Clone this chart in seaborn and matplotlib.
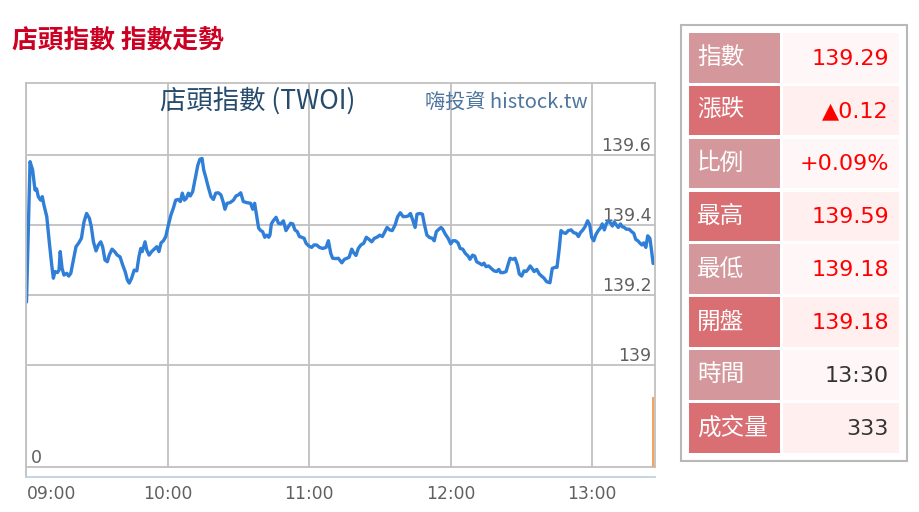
import matplotlib
matplotlib.use("Agg")
import matplotlib.pyplot as plt
import seaborn as sns
import pandas as pd
from matplotlib.patches import Rectangle

# ---------------- data ----------------
minutes = [0, 1.5, 2.6, 3.6, 4.3, 5.0, 6.0, 6.7, 7.4, 8.6, 9.7, 10.7, 11.4, 12.1, 13.1, 13.8, 14.3, 15.1, 15.9, 17.1,
           17.9, 18.8, 19.9, 21.0, 22.2, 23.3, 24.4, 25.5, 26.7, 27.5, 28.4, 29.5, 30.5, 31.5, 32.3, 33.3, 34.3, 35.1, 36.3, 37.4,
           38.5, 39.7, 40.8, 41.9, 42.8, 43.6, 44.6, 45.7, 46.8, 47.7, 48.5, 49.1, 50.3, 51.0, 52.0, 53.1, 54.2, 55.3, 56.2, 57.1,
           58.1, 59.1, 60.2, 61.3, 62.3, 63.3, 64.4, 65.3, 66.1, 67.0, 67.8, 68.7, 69.5, 70.5, 71.5, 72.7, 73.6, 74.5, 75.2, 76.0,
           77.1, 78.3, 79.3, 80.3, 81.4, 82.5, 83.4, 84.2, 85.1, 86.4, 87.8, 88.9, 89.9, 90.9, 92.0, 93.4, 95.1, 96.0, 96.8, 97.7,
           98.5, 99.4, 100.2, 101.1, 101.9, 102.8, 103.3, 103.9, 104.7, 105.9, 106.9, 107.9, 109.0, 110.1, 111.1, 112.1, 113.0, 113.9, 114.9, 115.8,
           116.8, 117.8, 118.6, 119.8, 121.0, 122.0, 123.1, 124.3, 125.7, 127.1, 128.1, 129.1, 129.9, 131.3, 132.3, 133.8, 134.9, 136.0, 136.9, 138.0,
           138.8, 139.8, 140.8, 141.9, 143.1, 144.2, 145.3, 146.5, 147.6, 148.7, 149.9, 151.0, 152.1, 153.0, 154.1, 155.2, 156.4, 157.5, 158.6, 159.8,
           160.9, 162.0, 162.9, 163.9, 164.9, 165.7, 166.8, 168.0, 168.8, 169.9, 171.1, 172.2, 173.0, 173.9, 175.0, 175.9, 176.6, 177.7, 178.9, 180.0,
           180.9, 182.0, 183.1, 184.0, 185.1, 186.2, 187.4, 188.2, 189.3, 190.2, 191.0, 192.1, 193.3, 194.1, 195.0, 196.1, 197.2, 198.4, 199.5, 200.4,
           201.2, 202.3, 203.5, 204.3, 205.2, 206.3, 207.3, 208.3, 209.1, 210.1, 211.1, 212.0, 212.8, 213.7, 214.5, 215.4, 216.5, 217.6, 218.6, 219.6,
           220.7, 222.1, 223.1, 224.3, 225.1, 226.0, 226.8, 227.8, 228.8, 229.9, 231.1, 232.2, 233.3, 234.2, 235.0, 236.1, 237.0, 238.1, 239.0, 239.8,
           240.7, 241.5, 242.6, 243.5, 244.3, 245.2, 246.0, 246.9, 247.7, 248.6, 249.4, 250.3, 251.1, 252.0, 252.8, 253.7, 254.5, 255.7, 256.8, 257.7,
           258.5, 259.4, 260.2, 261.1, 261.9, 262.8, 263.6, 264.5, 265.0, 265.9]

prices = [139.180, 139.581, 139.557, 139.500, 139.503, 139.481, 139.471, 139.481, 139.457, 139.424,
          139.349, 139.286, 139.248, 139.267, 139.264, 139.271, 139.324, 139.276, 139.257, 139.262,
          139.254, 139.262, 139.300, 139.338, 139.349, 139.362, 139.409, 139.433, 139.419, 139.395,
          139.352, 139.326, 139.343, 139.352, 139.338, 139.300, 139.295, 139.314, 139.331, 139.324,
          139.314, 139.309, 139.286, 139.266, 139.243, 139.234, 139.248, 139.271, 139.269, 139.309,
          139.333, 139.324, 139.352, 139.329, 139.314, 139.324, 139.331, 139.338, 139.324, 139.349,
          139.355, 139.367, 139.400, 139.429, 139.448, 139.471, 139.473, 139.467, 139.491, 139.471,
          139.476, 139.491, 139.483, 139.495, 139.529, 139.571, 139.588, 139.590, 139.557, 139.538,
          139.509, 139.481, 139.473, 139.491, 139.492, 139.486, 139.467, 139.445, 139.462, 139.464,
          139.471, 139.483, 139.486, 139.492, 139.467, 139.464, 139.462, 139.445, 139.462, 139.424,
          139.391, 139.384, 139.381, 139.365, 139.371, 139.365, 139.371, 139.403, 139.412, 139.422,
          139.405, 139.403, 139.412, 139.384, 139.395, 139.405, 139.403, 139.386, 139.381, 139.367,
          139.365, 139.362, 139.348, 139.340, 139.336, 139.343, 139.343, 139.336, 139.333, 139.336,
          139.355, 139.319, 139.305, 139.304, 139.305, 139.292, 139.302, 139.305, 139.308, 139.331,
          139.321, 139.313, 139.333, 139.343, 139.348, 139.365, 139.359, 139.352, 139.362, 139.365,
          139.371, 139.367, 139.381, 139.393, 139.386, 139.384, 139.400, 139.424, 139.435, 139.424,
          139.424, 139.426, 139.433, 139.414, 139.393, 139.431, 139.433, 139.431, 139.403, 139.371,
          139.364, 139.362, 139.355, 139.381, 139.388, 139.393, 139.388, 139.374, 139.362, 139.346,
          139.355, 139.355, 139.349, 139.333, 139.331, 139.319, 139.311, 139.302, 139.314, 139.311,
          139.295, 139.291, 139.286, 139.291, 139.281, 139.283, 139.276, 139.269, 139.267, 139.273,
          139.264, 139.264, 139.267, 139.286, 139.305, 139.302, 139.305, 139.286, 139.260, 139.254,
          139.269, 139.267, 139.273, 139.283, 139.276, 139.267, 139.273, 139.260, 139.254, 139.248,
          139.238, 139.235, 139.276, 139.279, 139.279, 139.329, 139.384, 139.378, 139.376, 139.384,
          139.386, 139.378, 139.376, 139.367, 139.378, 139.386, 139.395, 139.412, 139.400, 139.365,
          139.355, 139.371, 139.384, 139.391, 139.403, 139.386, 139.403, 139.412, 139.407, 139.397,
          139.409, 139.400, 139.393, 139.403, 139.395, 139.393, 139.388, 139.388, 139.381, 139.376,
          139.359, 139.355, 139.349, 139.343, 139.349, 139.336, 139.369, 139.362, 139.338, 139.290]

vol_minutes = [265.9]
vol_values = [333]

hour_ticks = [0, 60, 120, 180, 240]
hour_labels = ["09:00", "10:00", "11:00", "12:00", "13:00"]
price_ticks = [139.0, 139.2, 139.4, 139.6]
price_labels = ["139", "139.2", "139.4", "139.6"]
vol_ticks = [0]
vol_labels = ["0"]

page_title = "店頭指數 指數走勢"
chart_title = "店頭指數 (TWOI)"
chart_credit = "嗨投資 histock.tw"

table_labels = ["指數", "漲跌", "比例", "最高", "最低", "開盤", "時間", "成交量"]
table_values = ["139.29", "▲0.12", "+0.09%", "139.59", "139.18", "139.18", "13:30", "333"]

# ---------------- style ----------------
sns.set_style("white")
plt.rcParams["font.family"] = ["DejaVu Sans", "Noto Sans CJK TC"]
CJK = ["Noto Sans CJK TC", "DejaVu Sans"]

W, H = 920, 512
fig = plt.figure(figsize=(W / 100, H / 100), dpi=100)


def fx(px):
    return px / W


def fy(py):
    return 1 - py / H


L, R, T, B = 26.5, 655.5, 83, 467
XMAX = 266.9
GRID = "#c0c0c0"
LABEL = "#606060"

# main price axes
ax = fig.add_axes([fx(L), fy(B), fx(R - L), (B - T) / H])
df = pd.DataFrame({"minute": minutes, "price": prices})
sns.lineplot(data=df, x="minute", y="price", ax=ax, color="#2f7ed8",
             linewidth=2.4, estimator=None, sort=False)
ax.set_xlim(0, XMAX)
ax.set_ylim(139 - 102 / 350, 139 + 282 / 350)
ax.set_xlabel("")
ax.set_ylabel("")
ax.set_xticks(hour_ticks)
ax.set_xticklabels([])
ax.tick_params(axis="x", length=0)
ax.set_yticks(price_ticks)
ax.set_yticklabels(price_labels)
ax.yaxis.tick_right()
ax.tick_params(axis="y", length=0, pad=-3, labelsize=12.5, labelcolor=LABEL)
for lab in ax.get_yticklabels():
    lab.set_horizontalalignment("right")
    lab.set_verticalalignment("bottom")
ax.grid(True, color=GRID, linewidth=1.3)
for s in ax.spines.values():
    s.set_color(GRID)
    s.set_linewidth(1.3)

# volume pane
axv = fig.add_axes([fx(L), fy(B), fx(R - L), (B - 365) / H])
axv.patch.set_alpha(0)
axv.bar(vol_minutes, vol_values, width=0.7, color="#f7a35c", linewidth=0)
axv.set_xlim(0, XMAX)
axv.set_ylim(0, 333 * 102 / 70)
axv.set_xticks([])
axv.set_yticks(vol_ticks)
axv.set_yticklabels(vol_labels)
axv.tick_params(axis="y", length=0, pad=-3.5, labelsize=12.5, labelcolor=LABEL)
for lab in axv.get_yticklabels():
    lab.set_horizontalalignment("left")
    lab.set_verticalalignment("bottom")
for s in axv.spines.values():
    s.set_visible(False)

# x axis line below
axx = fig.add_axes([fx(L), fy(477), fx(R - L), 10 / H])
axx.patch.set_alpha(0)
axx.set_xlim(0, XMAX)
axx.set_yticks([])
axx.set_xticks(hour_ticks)
axx.set_xticklabels(hour_labels)
axx.tick_params(axis="x", length=4, width=1.3, color="#C0D0E0", pad=2,
                labelsize=12.3, labelcolor=LABEL)
axx.get_xticklabels()[0].set_horizontalalignment("left")
axx.spines["top"].set_visible(False)
axx.spines["right"].set_visible(False)
axx.spines["bottom"].set_color("#C0D0E0")
axx.spines["bottom"].set_linewidth(1.3)
axx.spines["left"].set_color(GRID)
axx.spines["left"].set_linewidth(1.3)

# overlay for titles and the table
ov = fig.add_axes([0, 0, 1, 1])
ov.set_xlim(0, W)
ov.set_ylim(H, 0)
ov.axis("off")

ov.text(12, 41, page_title, family=CJK, fontsize=18.5, fontweight="bold",
        color="#cc0022", ha="left", va="center")
ov.text(258, 101, chart_title, family=CJK, fontsize=19, color="#274b6d",
        ha="center", va="center")
ov.text(506, 102, chart_credit, family=CJK, fontsize=14.5, color="#4d759e",
        ha="center", va="center")

# table
ov.add_patch(Rectangle((681, 25), 226, 436, fill=False, edgecolor="#b8b8b8", linewidth=1.5))
top0, pitch, rh = 33, 52.86, 49.5
label_bg = ["#d4979b", "#d96e73"]
value_bg = ["#fff7f7", "#ffefef"]
value_col = ["#ff0000"] * 6 + ["#333333"] * 2
for i, (lab, val) in enumerate(zip(table_labels, table_values)):
    top = top0 + i * pitch
    ov.add_patch(Rectangle((689, top), 91, rh, facecolor=label_bg[i % 2], edgecolor="none"))
    ov.add_patch(Rectangle((783, top), 116, rh, facecolor=value_bg[i % 2], edgecolor="none"))
    ov.text(697, top + rh / 2, lab, family=CJK, fontsize=17, color="white",
            ha="left", va="center")
    ov.text(889, top + rh / 2 + 1, val, fontsize=16, color=value_col[i],
            ha="right", va="center", family=["DejaVu Sans"])

fig.savefig("out.png", dpi=100)
